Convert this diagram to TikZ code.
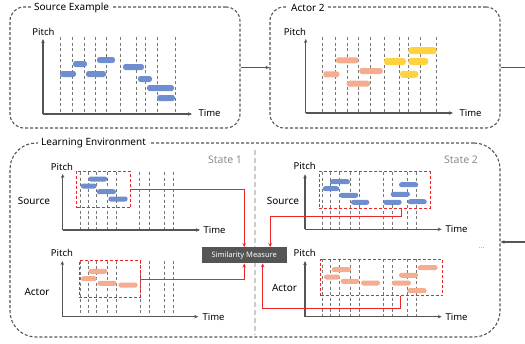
\documentclass[tikz,border=0pt]{standalone}
\usepackage{fontspec}
\setmainfont{Noto Sans}
\usepackage{tikz}
\usetikzlibrary{positioning}
\usetikzlibrary{arrows.meta}
\tikzset{tips=proper}
\definecolor{notebl}{RGB}{110,142,208}
\definecolor{notesa}{RGB}{245,172,144}
\definecolor{noteye}{RGB}{255,210,62}
\definecolor{linkred}{RGB}{236,38,38}
\definecolor{axgray}{RGB}{85,85,85}
\tikzset{%
    panel/.style={draw=axgray, line width=1.1pt, dash pattern=on 3pt off 2pt, rounded corners=14pt},
    title/.style={fill=white, inner sep=3pt, anchor=west, font=\fontsize{10}{12}\selectfont},
    axis/.style={draw=axgray, line width=1.1pt, -{Stealth[length=4pt, width=3.5pt]}},
    grid/.style={draw=axgray!80, line width=0.6pt, dash pattern=on 3pt off 2.5pt},
    redbox/.style={draw=linkred, line width=0.9pt, dash pattern=on 3pt off 2pt},
    link/.style={draw=linkred, line width=0.9pt, -{Stealth[length=4pt, width=3.5pt]}},
    arrow/.style={draw=axgray, line width=1.1pt, -{Stealth[length=4pt, width=3.5pt]}},
    state/.style={text=black!45, font=\fontsize{10.5}{12}\selectfont},
    side/.style={font=\fontsize{10}{12}\selectfont},
    blnote/.style={fill=notebl, rounded corners=2.5pt},
    sanote/.style={fill=notesa, rounded corners=2.5pt},
    yenote/.style={fill=noteye, rounded corners=3pt}
}

\begin{document}
\begin{tikzpicture}[x=1pt, y=-1pt, font=\fontsize{9.5}{11}\selectfont]
	\useasboundingbox (0,0) rectangle (525,343);

	\node[panel, minimum width=230, minimum height=121] (example) at (125,67.5) {};
	\node[panel, minimum width=230, minimum height=121] (actor2) at (385,67.5) {};
	\node[panel, rounded corners=26pt, minimum width=490, minimum height=194] (env) at (255,240) {};
	\node[title] (exampleT) at (31,8) {Source Example};
	\node[title] (actor2T) at (288,8) {Actor 2};
	\node[title] (envT) at (38,143) {Learning Environment};

	\coordinate (outR) at (525,67.5);
	\coordinate (inR) at (525,242);
	\draw[arrow] (example.east) -- (actor2.west);
	\draw[draw=axgray, line width=1.1pt] (actor2.east) -- (outR);
	\draw[arrow] (inR) -- (inR -| env.east);

	\draw[draw=black!20, line width=1.2pt, dash pattern=on 5pt off 3pt] (255,150) -- (255,335);
	\node[state] (state1) at (225,160) {State 1};
	\node[state] (state2) at (461,160) {State 2};

	% source example
	\foreach \x in {60,72.3,84,95.7,106.7,120.7,136.7,145,157.3,175}
		\draw[grid] (\x,37) -- (\x,114);
	\foreach \a/\b/\y in {60/76/74, 73/87/64, 86/106/74, 97/115/60, 123/144/67, 138/152/79, 147/174/88, 157/175/98}
		\fill[blnote] (\a,\y-3) rectangle (\b,\y+3);
	\draw[axis] (43,114) -- (43,39);
	\draw[axis] (43,114) -- (192,114);
	\node (pitchA) at (43.5,32) {Pitch};
	\node[anchor=west] (timeA) at (195,113) {Time};

	% actor 2
	\foreach \x in {322.3,335.7,347.3,358.3,370,384,399.3,408.3,420.7,436.7}
		\draw[grid] (\x,37) -- (\x,113);
	\foreach \a/\b/\y in {323.3/339.3/74.3, 336/358.7/60.3, 359.3/382.7/71, 346.7/370/83.7}
		\fill[sanote] (\a,\y-3) rectangle (\b,\y+3);
	\foreach \a/\b/\y in {384/406/61.5, 408.3/436.7/50.7, 408.3/428.3/61.5, 400/418.3/74.3}
		\fill[yenote] (\a,\y-3.5) rectangle (\b,\y+3.5);
	\draw[axis] (305.7,113) -- (305.7,39);
	\draw[axis] (305.7,113) -- (453,113);
	\node (pitchB) at (295,32) {Pitch};
	\node[anchor=west] (timeB) at (456,113) {Time};

	% state 1
	\foreach \x in {80,88.3,96.7,107.7,116.7,139.3,149,164,173.3}
		\draw[grid] (\x,172) -- (\x,230);
	\foreach \a/\b/\y in {88.3/107.3/179, 80.7/96.7/186, 96.7/116/191.7, 108.3/127.7/199}
		\fill[blnote] (\a,\y-2.5) rectangle (\b,\y+2.5);
	\draw[axis] (62.7,230) -- (62.7,174);
	\draw[axis] (62.7,230) -- (200,230);
	\node (pitchC) at (62,167) {Pitch};
	\node[anchor=west] (timeC) at (200,230) {Time};
	\node[side] (srcC) at (34,201) {Source};
	\node[redbox, minimum width=54, minimum height=36.7] (boxSa) at (103.7,189.35) {};

	\foreach \x in {80,88.3,96.7,107.7,116.7,140,149,164,173.3}
		\draw[grid] (\x,260.7) -- (\x,316.7);
	\foreach \a/\b/\y in {88.3/107.3/271.3, 81/96.7/278.7, 97.3/116.7/283.3, 118.3/137.7/285}
		\fill[sanote] (\a,\y-2.5) rectangle (\b,\y+2.5);
	\draw[axis] (62.3,316.7) -- (62.3,261);
	\draw[axis] (62.3,316.7) -- (198.3,316.7);
	\node (pitchD) at (62,253) {Pitch};
	\node[anchor=west] (timeD) at (199,316.7) {Time};
	\node[side] (actD) at (37,291.7) {Actor};
	\node[redbox, minimum width=60.7, minimum height=37] (boxAa) at (109.65,279.2) {};

	% state 2
	\foreach \x in {322.7,330.7,339.3,350.7,359.3,383.3,392,407.3,416.7}
		\draw[grid] (\x,172) -- (\x,229.3);
	\foreach \a/\b/\y in {330/350/181.7, 322.7/339.3/188.7, 339.3/358.3/195.3, 351/369.3/202.3, 383.3/401.7/202.3, 390.7/410/194.3, 399/418.3/184.7, 407.7/426.7/201.7}
		\fill[blnote] (\a,\y-2.5) rectangle (\b,\y+2.5);
	\draw[axis] (305,229.3) -- (305,174.3);
	\draw[axis] (305,229.3) -- (441.7,229.3);
	\node (pitchE) at (304.7,166) {Pitch};
	\node[anchor=west] (timeE) at (442,229.3) {Time};
	\node[side] (srcE) at (283,200.7) {Source};
	\node[redbox, minimum width=110.7, minimum height=36.6] (boxSb) at (374.65,190) {};

	\foreach \x in {322.7,330.7,339.3,350.7,359.3,383.3,392,407.3,416.7}
		\draw[grid] (\x,259) -- (\x,316.7);
	\foreach \a/\b/\y in {331.7/351/269.7, 324/340/277, 340.7/359.3/281.3, 361/380/283, 391.7/411/283, 399/418.3/275.3, 417.7/437.7/267.7, 407.3/426.7/290.7}
		\fill[sanote] (\a,\y-2.5) rectangle (\b,\y+2.5);
	\draw[axis] (305,316.7) -- (305,261);
	\draw[axis] (305,316.7) -- (441.7,316.7);
	\node (pitchF) at (304.7,253.3) {Pitch};
	\node[anchor=west] (timeF) at (442,316.7) {Time};
	\node[side] (actF) at (284.5,288.3) {Actor};
	\node[redbox, minimum width=122, minimum height=36.7] (boxAb) at (381.7,277.35) {};
	\node[text=black!50, font=\fontsize{7}{8}\selectfont] (more) at (481.7,248) {...};

	\node[fill=axgray, text=white, minimum width=85, minimum height=16, inner sep=1pt, font=\fontsize{7.5}{9}\selectfont] (sim) at (244.2,255.3) {Similarity Measure};

	\draw[link] (boxSa.east) -| (sim.north);
	\draw[link] (boxAa.east) -| (sim.south);
	\draw[link] ([xshift=27]boxSb.south) -- ++(0,7.7) -| ([xshift=26]sim.north);
	\draw[link] ([xshift=19]boxAb.south) -- ++(0,12.6) -| ([xshift=18.5]sim.south);
\end{tikzpicture}
\end{document}
